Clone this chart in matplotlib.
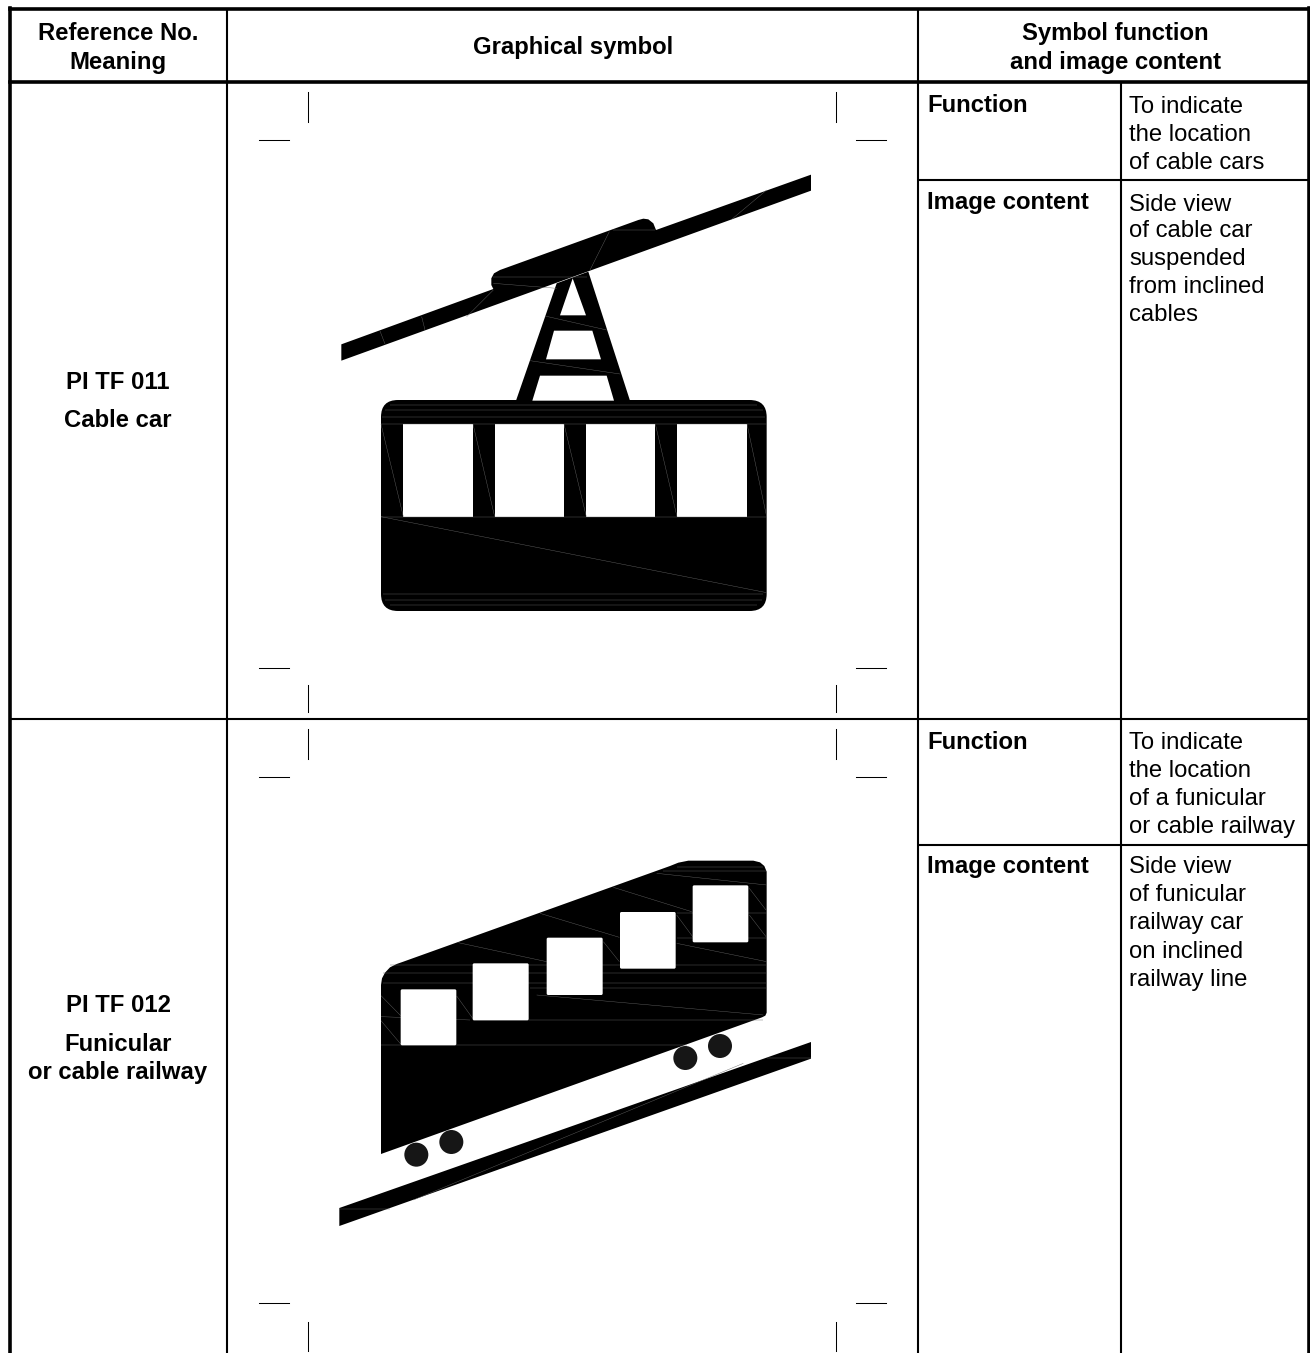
import matplotlib
matplotlib.use("Agg")
import matplotlib.pyplot as plt
from matplotlib.patches import Polygon, FancyBboxPatch, Circle

plt.rcParams['font.family'] = ['Liberation Sans', 'DejaVu Sans']

# table rules
thick_rules = [(9.5, 9, 1309, 9), (9.5, 82, 1309, 82), (9.5, 8, 9.5, 1353), (1309, 8, 1309, 1353)]
thin_rules = [(227, 9, 227, 1353), (918, 9, 918, 1353), (1121, 82, 1121, 1353),
              (9, 719, 1309, 719), (918, 180, 1309, 180), (918, 845, 1309, 845)]

# crop marks round each symbol
crop_v = [(308, 92, 122), (836, 92, 122), (308, 685, 712), (836, 685, 712),
          (308, 729, 759), (836, 729, 759), (308, 1322, 1351), (836, 1322, 1351)]
crop_h = [(140, 259, 289), (140, 856, 886), (668, 259, 289), (668, 856, 886),
          (777, 259, 289), (777, 856, 886), (1303, 259, 289), (1303, 856, 886)]

# text: x, baseline y, string
header_text = [(118, 40, "Reference No."), (118, 69, "Meaning"), (573, 54, "Graphical symbol"),
               (1115, 40, "Symbol function"), (1115, 69, "and image content")]
meaning_text = [(118, 389, "PI TF 011"), (118, 427, "Cable car"), (118, 1012, "PI TF 012"),
                (118, 1051, "Funicular"), (118, 1079, "or cable railway")]
label_text = [(927, 112, "Function"), (927, 209, "Image content"), (927, 749, "Function"), (927, 873, "Image content")]
body_text = [(1129, 113, "To indicate"), (1129, 141, "the location"), (1129, 169, "of cable cars"),
             (1129, 211, "Side view"), (1129, 237, "of cable car"), (1129, 265, "suspended"),
             (1129, 293, "from inclined"), (1129, 321, "cables"),
             (1129, 749, "To indicate"), (1129, 777, "the location"), (1129, 805, "of a funicular"),
             (1129, 833, "or cable railway"),
             (1129, 873, "Side view"), (1129, 901, "of funicular"), (1129, 929, "railway car"),
             (1129, 958, "on inclined"), (1129, 986, "railway line")]

# cable car outline, in 3x crop coordinates from (330, 170)
cable = [(34, 523), (490, 357), (484, 345), (484, 325), (492, 310), (510, 300), (925, 150), (940, 146),
         (955, 148), (970, 160), (978, 180), (1443, 14), (1443, 62), (34, 572)]
tower = [(558, 692), (680, 340), (775, 305), (900, 692)]
tower_holes = [[(728, 325), (768, 436), (690, 436)],
               [(672, 482), (787, 482), (813, 568), (648, 568)],
               [(630, 617), (830, 617), (852, 692), (607, 692)]]
car_box = (153, 690, 1310, 1323)
car_windows = [(220, 429), (494, 702), (769, 976), (1041, 1251)]
car_window_y = (762, 1040)

# funicular outline, in 3x crop coordinates from (330, 850)
fun_car = [(153, 912), (1296, 502), (1306, 497), (1310, 488), (1310, 65), (1303, 48), (1290, 37), (1270, 32),
           (1075, 32), (1045, 38), (1020, 48), (220, 335), (200, 342), (180, 352), (165, 368), (156, 385), (153, 405)]
fun_windows = [(212, 418, 379, 586), (428, 340, 596, 511), (650, 263, 818, 435), (870, 186, 1037, 356),
               (1088, 106, 1255, 277)]
fun_wheels = [(259, 914), (364, 876), (1066, 624), (1170, 588)]
fun_rail = [(28, 1074), (1443, 576), (1443, 626), (28, 1128)]

# faint seams visible in the black shapes
car_seams = [(153, 1040, 1310, 1268), (153, 762, 220, 1040), (429, 762, 494, 1040), (702, 762, 769, 1040),
             (976, 762, 1041, 1040), (1251, 762, 1310, 1040), (153, 1040, 1310, 1040), (153, 762, 1310, 762),
             (160, 1272, 1300, 1272), (165, 1290, 1295, 1290), (180, 1305, 1280, 1305), (165, 720, 1300, 720),
             (155, 740, 1305, 740), (180, 705, 1280, 705), (150, 483, 165, 522), (275, 440, 285, 480),
             (410, 440, 490, 360), (780, 300, 838, 185), (1205, 148, 1310, 60), (645, 438, 830, 480),
             (600, 572, 870, 612), (490, 322, 770, 322), (490, 340, 680, 355), (850, 180, 975, 180)]
fun_seams = [(153, 585, 1070, 585), (430, 511, 1300, 511), (620, 435, 1300, 495), (153, 500, 420, 510),
             (160, 400, 1308, 400), (160, 370, 1308, 370), (180, 345, 1308, 345), (600, 415, 1308, 415),
             (1040, 280, 1310, 335), (850, 112, 1085, 185), (630, 190, 868, 262), (385, 278, 650, 335),
             (980, 70, 1310, 105), (1040, 265, 1310, 265), (1040, 188, 1310, 188), (153, 437, 212, 497),
             (153, 512, 212, 582), (380, 438, 428, 505), (820, 275, 868, 335), (1040, 195, 1088, 260),
             (1258, 115, 1308, 180), (1258, 195, 1308, 260), (1040, 50, 1300, 50), (1000, 62, 1308, 62),
             (28, 1076, 180, 1076), (250, 1050, 1240, 640), (1310, 625, 1443, 625)]


def from_crop(points, ox, oy):
    return [(ox + x / 3, oy + y / 3) for x, y in points]


def draw_seams(seams, ox, oy):
    for x0, y0, x1, y1 in seams:
        (a, b), (c, d) = from_crop([(x0, y0), (x1, y1)], ox, oy)
        ax.plot([a, c], [b, d], color='#666666', lw=0.3, solid_capstyle='butt', zorder=3)


fig = plt.figure(figsize=(13.10, 13.53), dpi=100)
ax = fig.add_axes([0, 0, 1, 1])
ax.set_xlim(0, 1310)
ax.set_ylim(1353, 0)
ax.axis('off')

for x0, y0, x1, y1 in thick_rules:
    ax.plot([x0, x1], [y0, y1], color='black', lw=2.6, solid_capstyle='projecting')
for x0, y0, x1, y1 in thin_rules:
    ax.plot([x0, x1], [y0, y1], color='black', lw=1.5, solid_capstyle='butt')

for x, y0, y1 in crop_v:
    ax.plot([x, x], [y0, y1], color='black', lw=0.75)
for y, x0, x1 in crop_h:
    ax.plot([x0, x1], [y, y], color='black', lw=0.75)

# cable car
ox, oy = 330, 170
ax.add_patch(Polygon(from_crop(cable, ox, oy), fc='black', ec='none', zorder=2))
ax.add_patch(Polygon(from_crop(tower, ox, oy), fc='black', ec='none', zorder=2))
for hole in tower_holes:
    ax.add_patch(Polygon(from_crop(hole, ox, oy), fc='white', ec='none', zorder=2.5))
x0, y0, x1, y1 = car_box
(bx0, by0), (bx1, by1) = from_crop([(x0, y0), (x1, y1)], ox, oy)
ax.add_patch(FancyBboxPatch((bx0 + 17, by0 + 17), bx1 - bx0 - 34, by1 - by0 - 34,
                            boxstyle="round,pad=17,rounding_size=17", fc='black', ec='none', zorder=2))
for wx0, wx1 in car_windows:
    pts = from_crop([(wx0, car_window_y[0]), (wx1, car_window_y[0]), (wx1, car_window_y[1]), (wx0, car_window_y[1])], ox, oy)
    ax.add_patch(Polygon(pts, fc='white', ec='none', zorder=2.5))
draw_seams(car_seams, ox, oy)

# funicular
ox, oy = 330, 850
ax.add_patch(Polygon(from_crop(fun_car, ox, oy), fc='black', ec='none', zorder=2))
ax.add_patch(Polygon(from_crop(fun_rail, ox, oy), fc='black', ec='none', zorder=2))
draw_seams(fun_seams, ox, oy)
for wx0, wy0, wx1, wy1 in fun_windows:
    (a, b), (c, d) = from_crop([(wx0, wy0), (wx1, wy1)], ox, oy)
    ax.add_patch(FancyBboxPatch((a + 1, b + 1), c - a - 2, d - b - 2,
                                boxstyle="round,pad=1,rounding_size=1.5", fc='white', ec='none', zorder=3.5))
for cx, cy in from_crop(fun_wheels, ox, oy):
    ax.add_patch(Circle((cx, cy), 12, fc='#161616', ec='none', zorder=2))

for x, y, s in header_text + meaning_text:
    ax.text(x, y, s, fontsize=17.2, fontweight='bold', ha='center', va='baseline')
for x, y, s in label_text:
    ax.text(x, y, s, fontsize=17.2, fontweight='bold', ha='left', va='baseline')
for x, y, s in body_text:
    ax.text(x, y, s, fontsize=17.2, ha='left', va='baseline')

fig.savefig('out.png', dpi=100)
